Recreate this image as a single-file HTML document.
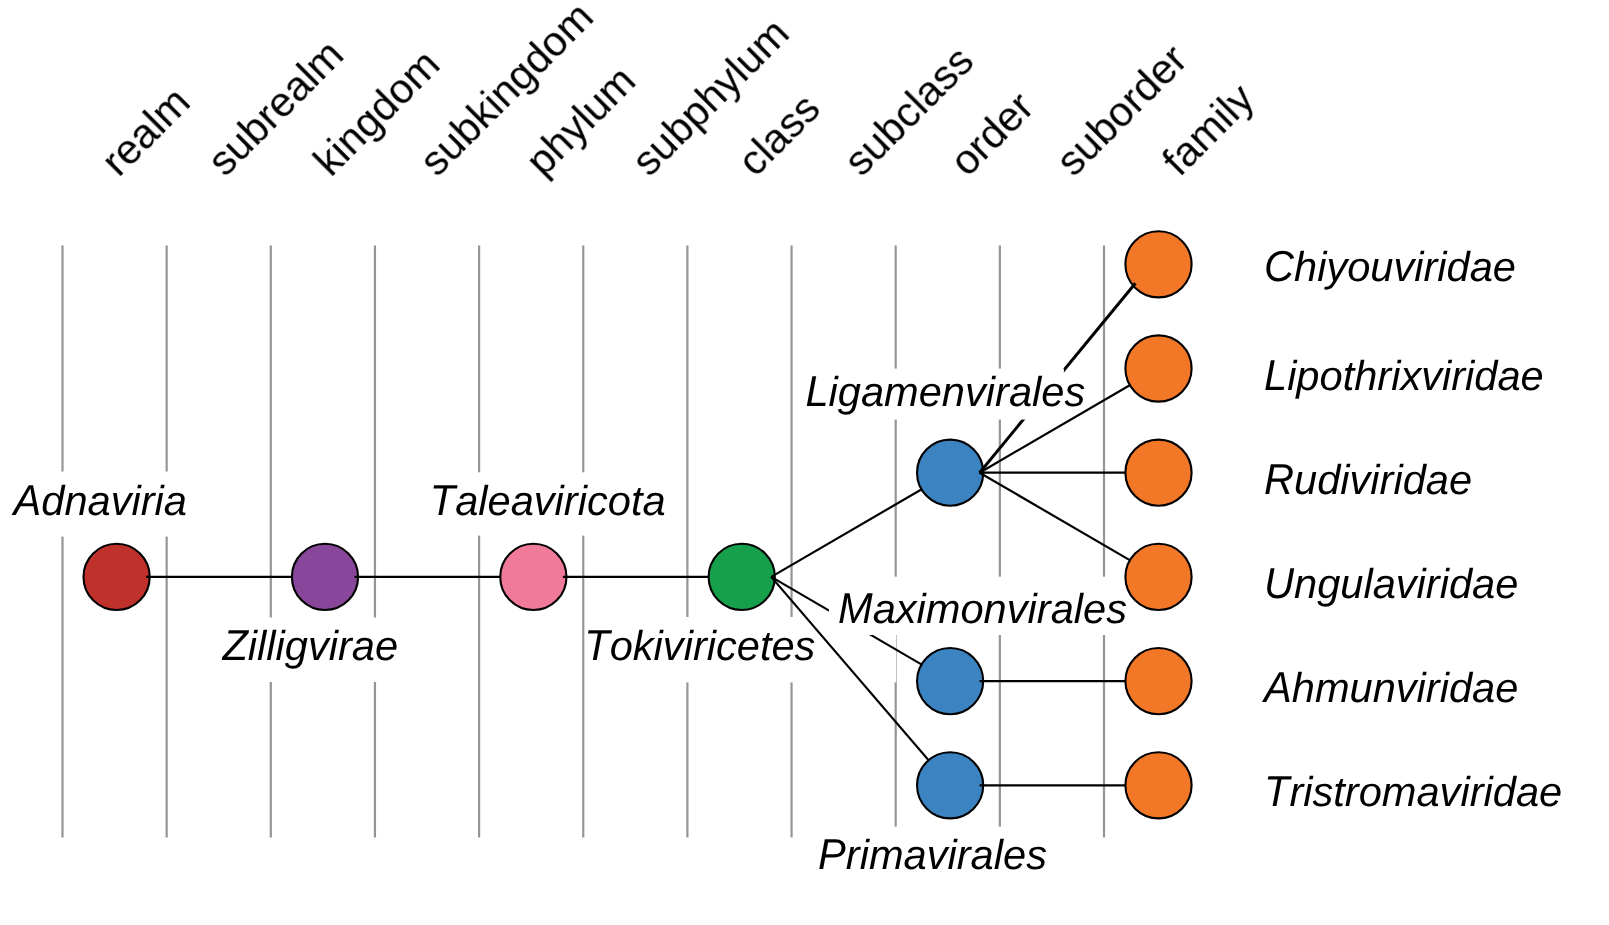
<!DOCTYPE html>
<html><head><meta charset="utf-8"><style>
html,body{margin:0;padding:0;background:#fff;}
body{width:1609px;height:925px;overflow:hidden;}
svg{display:block;}
.h{will-change:transform;text-rendering:geometricPrecision;font-kerning:none;font-family:"Liberation Sans",sans-serif;font-size:41.6px;fill:#000;}
.l{will-change:transform;text-rendering:geometricPrecision;font-kerning:none;font-family:"Liberation Sans",sans-serif;font-size:41.6px;font-style:italic;fill:#000;}
</style></head><body>
<svg width="1609" height="925" viewBox="0 0 1609 925">
<rect x="0" y="0" width="1609" height="925" fill="#fff"/>
<line x1="62.50" y1="245.40" x2="62.50" y2="837.50" stroke="#939598" stroke-width="2.2"/>
<line x1="166.65" y1="245.40" x2="166.65" y2="837.50" stroke="#939598" stroke-width="2.2"/>
<line x1="270.80" y1="245.40" x2="270.80" y2="837.50" stroke="#939598" stroke-width="2.2"/>
<line x1="374.95" y1="245.40" x2="374.95" y2="837.50" stroke="#939598" stroke-width="2.2"/>
<line x1="479.10" y1="245.40" x2="479.10" y2="837.50" stroke="#939598" stroke-width="2.2"/>
<line x1="583.25" y1="245.40" x2="583.25" y2="837.50" stroke="#939598" stroke-width="2.2"/>
<line x1="687.40" y1="245.40" x2="687.40" y2="837.50" stroke="#939598" stroke-width="2.2"/>
<line x1="791.55" y1="245.40" x2="791.55" y2="837.50" stroke="#939598" stroke-width="2.2"/>
<line x1="895.70" y1="245.40" x2="895.70" y2="837.50" stroke="#939598" stroke-width="2.2"/>
<line x1="999.85" y1="245.40" x2="999.85" y2="837.50" stroke="#939598" stroke-width="2.2"/>
<line x1="1104.00" y1="245.40" x2="1104.00" y2="837.50" stroke="#939598" stroke-width="2.2"/>
<rect x="8.00" y="471.50" width="182.00" height="65.10" fill="#fff"/>
<rect x="215.00" y="617.50" width="187.00" height="64.50" fill="#fff"/>
<rect x="428.00" y="472.30" width="242.00" height="63.30" fill="#fff"/>
<rect x="585.50" y="617.00" width="310.80" height="65.40" fill="#fff"/>
<rect x="812.00" y="826.60" width="240.00" height="53.40" fill="#fff"/>
<text x="118.60" y="177.80" transform="rotate(-45 118.60 177.80)" class="h">realm</text>
<text x="224.68" y="177.80" transform="rotate(-45 224.68 177.80)" class="h">subrealm</text>
<text x="330.76" y="177.80" transform="rotate(-45 330.76 177.80)" class="h">kingdom</text>
<text x="436.84" y="177.80" transform="rotate(-45 436.84 177.80)" class="h">subkingdom</text>
<text x="542.92" y="177.80" transform="rotate(-45 542.92 177.80)" class="h">phylum</text>
<text x="649.00" y="177.80" transform="rotate(-45 649.00 177.80)" class="h">subphylum</text>
<text x="755.08" y="177.80" transform="rotate(-45 755.08 177.80)" class="h">class</text>
<text x="861.16" y="177.80" transform="rotate(-45 861.16 177.80)" class="h">subclass</text>
<text x="967.24" y="177.80" transform="rotate(-45 967.24 177.80)" class="h">order</text>
<text x="1073.32" y="177.80" transform="rotate(-45 1073.32 177.80)" class="h">suborder</text>
<text x="1179.40" y="177.80" transform="rotate(-45 1179.40 177.80)" class="h">family</text>
<circle cx="116.60" cy="576.90" r="33.1" fill="#c0312c" stroke="#000" stroke-width="2.1"/>
<line x1="146.10" y1="576.90" x2="324.98" y2="576.90" stroke="#000" stroke-width="2.2"/>
<circle cx="324.98" cy="576.90" r="33.1" fill="#88479b" stroke="#000" stroke-width="2.1"/>
<line x1="354.48" y1="576.90" x2="533.36" y2="576.90" stroke="#000" stroke-width="2.2"/>
<circle cx="533.36" cy="576.90" r="33.1" fill="#ef7a9a" stroke="#000" stroke-width="2.1"/>
<line x1="562.86" y1="576.90" x2="741.74" y2="576.90" stroke="#000" stroke-width="2.2"/>
<circle cx="741.74" cy="576.90" r="33.1" fill="#17a04b" stroke="#000" stroke-width="2.1"/>
<line x1="771.24" y1="576.90" x2="950.12" y2="472.70" stroke="#000" stroke-width="2.2"/>
<line x1="771.24" y1="576.90" x2="950.12" y2="681.10" stroke="#000" stroke-width="2.2"/>
<line x1="771.24" y1="576.90" x2="950.12" y2="785.30" stroke="#000" stroke-width="2.2"/>
<rect x="828.90" y="576.70" width="293.10" height="58.30" fill="#fff"/>
<circle cx="950.12" cy="472.70" r="33.1" fill="#3b83c1" stroke="#000" stroke-width="2.1"/>
<circle cx="950.12" cy="681.10" r="33.1" fill="#3b83c1" stroke="#000" stroke-width="2.1"/>
<circle cx="950.12" cy="785.30" r="33.1" fill="#3b83c1" stroke="#000" stroke-width="2.1"/>
<line x1="979.62" y1="472.70" x2="1158.50" y2="368.50" stroke="#000" stroke-width="2.2"/>
<line x1="979.62" y1="472.70" x2="1158.50" y2="472.70" stroke="#000" stroke-width="2.2"/>
<line x1="979.62" y1="472.70" x2="1158.50" y2="576.90" stroke="#000" stroke-width="2.2"/>
<line x1="979.62" y1="681.10" x2="1158.50" y2="681.10" stroke="#000" stroke-width="2.2"/>
<line x1="979.62" y1="785.30" x2="1158.50" y2="785.30" stroke="#000" stroke-width="2.2"/>
<circle cx="1158.50" cy="264.30" r="33.1" fill="#f27727" stroke="#000" stroke-width="2.1"/>
<circle cx="1158.50" cy="368.50" r="33.1" fill="#f27727" stroke="#000" stroke-width="2.1"/>
<circle cx="1158.50" cy="472.70" r="33.1" fill="#f27727" stroke="#000" stroke-width="2.1"/>
<circle cx="1158.50" cy="576.90" r="33.1" fill="#f27727" stroke="#000" stroke-width="2.1"/>
<circle cx="1158.50" cy="681.10" r="33.1" fill="#f27727" stroke="#000" stroke-width="2.1"/>
<circle cx="1158.50" cy="785.30" r="33.1" fill="#f27727" stroke="#000" stroke-width="2.1"/>
<line x1="979.62" y1="472.70" x2="1135.40" y2="283.20" stroke="#000" stroke-width="3.0"/>
<rect x="800.00" y="368.60" width="263.90" height="51.00" fill="#fff"/>
<text transform="translate(13.57 515.00) scale(1 1.04)" class="l">A</text>
<text x="41.32" y="515.00" class="l">dnaviria</text>
<text transform="translate(222.39 660.00) scale(1 1.04)" class="l">Z</text>
<text x="247.80" y="660.00" class="l">illigvirae</text>
<text transform="translate(429.78 515.00) scale(1 1.04)" class="l">T</text>
<text x="455.19" y="515.00" class="l">aleaviricota</text>
<text transform="translate(584.28 660.00) scale(1 1.04)" class="l">T</text>
<text x="609.69" y="660.00" class="l">okiviricetes</text>
<text transform="translate(805.44 406.00) scale(1 1.04)" class="l">L</text>
<text x="828.58" y="406.00" class="l">igamenvirales</text>
<text transform="translate(838.00 623.00) scale(1 1.04)" class="l">M</text>
<text x="872.66" y="623.00" class="l">aximonvirales</text>
<text transform="translate(818.12 869.00) scale(1 1.04)" class="l">P</text>
<text x="845.86" y="869.00" class="l">rimavirales</text>
<text transform="translate(1264.00 281.00) scale(1 1.04)" class="l">C</text>
<text x="1294.04" y="281.00" class="l">hiyouviridae</text>
<text transform="translate(1264.00 390.00) scale(1 1.04)" class="l">L</text>
<text x="1287.14" y="390.00" class="l">ipothrixviridae</text>
<text transform="translate(1264.00 494.00) scale(1 1.04)" class="l">R</text>
<text x="1294.04" y="494.00" class="l">udiviridae</text>
<text transform="translate(1264.00 598.00) scale(1 1.04)" class="l">U</text>
<text x="1294.04" y="598.00" class="l">ngulaviridae</text>
<text transform="translate(1264.00 702.00) scale(1 1.04)" class="l">A</text>
<text x="1291.75" y="702.00" class="l">hmunviridae</text>
<text transform="translate(1264.00 806.00) scale(1 1.04)" class="l">T</text>
<text x="1289.41" y="806.00" class="l">ristromaviridae</text>
</svg>
</body></html>
